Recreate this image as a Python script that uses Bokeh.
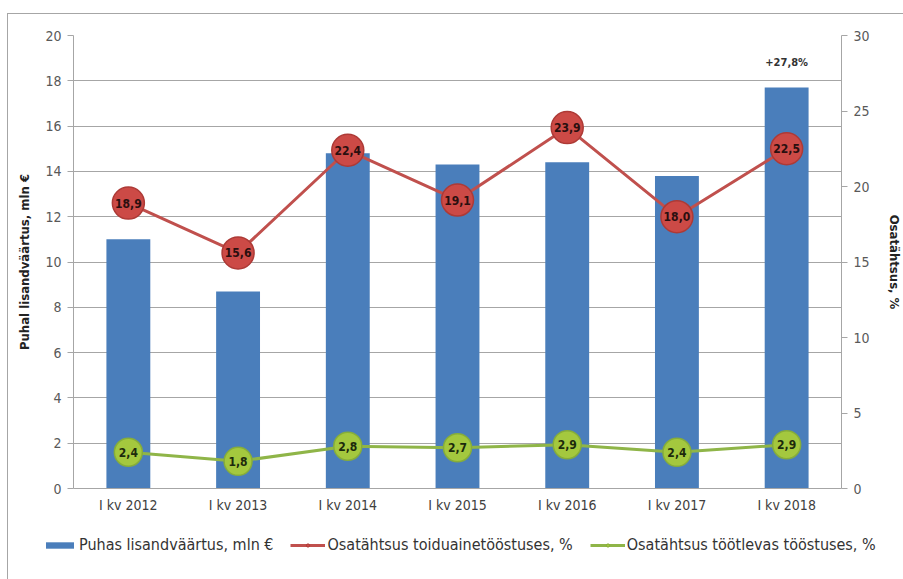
from bokeh.plotting import figure
from bokeh.layouts import column
from bokeh.models import (FactorRange, Range1d, LinearAxis, FixedTicker, Legend, LegendItem,
                          ColumnDataSource)
from bokeh.core.properties import value
from bokeh.embed import file_html
from bokeh.resources import INLINE

categories = ["I kv 2012", "I kv 2013", "I kv 2014", "I kv 2015", "I kv 2016", "I kv 2017", "I kv 2018"]
lisandvaartus = [11.0, 8.7, 14.8, 14.3, 14.4, 13.8, 17.7]
toiduaine = [18.9, 15.6, 22.4, 19.1, 23.9, 18.0, 22.5]
tootlev = [2.4, 1.8, 2.8, 2.7, 2.9, 2.4, 2.9]
growth_label = "+27,8%"
series_names = ["Puhas lisandväärtus, mln €", "Osatähtsus toiduainetööstuses, %",
                "Osatähtsus töötlevas tööstuses, %"]

left_ticks = list(range(0, 21, 2))
right_ticks = list(range(0, 31, 5))

FONT = "'DejaVu Sans Condensed', 'Liberation Sans Narrow', 'Roboto', sans-serif"
BAR_C = "#4a7ebb"
RED_L, RED_F, RED_E = "#c0504d", "#cc4a46", "#ad3a36"
GRN_L, GRN_F, GRN_E = "#8fb548", "#a4c83e", "#86ad3a"

def fmt(v):
    return f"{v:.1f}".replace(".", ",")

src = ColumnDataSource(dict(
    x=categories, bar=lisandvaartus, red=toiduaine, green=tootlev,
    red_lbl=[fmt(v) for v in toiduaine], green_lbl=[fmt(v) for v in tootlev],
))

W = 896
p = figure(x_range=FactorRange(factors=categories, range_padding=0), y_range=Range1d(0, 20),
           width=W, height=506, output_backend="svg", toolbar_location=None,
           min_border_left=65, min_border_right=55, min_border_top=21, min_border_bottom=32)
p.frame_align = False
p.extra_y_ranges = {"right": Range1d(0, 30)}
p.outline_line_color = None
p.background_fill_color = "white"
p.border_fill_color = "white"

p.vbar(x="x", top="bar", width=0.4, source=src, fill_color=BAR_C, line_color=None)

p.line(x="x", y="red", source=src, y_range_name="right", line_color=RED_L, line_width=3)
p.scatter(x="x", y="red", source=src, y_range_name="right", size=32,
          fill_color=RED_F, line_color=RED_E, line_width=1.5)
p.line(x="x", y="green", source=src, y_range_name="right", line_color=GRN_L, line_width=3)
p.scatter(x="x", y="green", source=src, y_range_name="right", size=28,
          fill_color=GRN_F, line_color=GRN_E, line_width=1.5)

p.text(x="x", y="red", text="red_lbl", source=src, y_range_name="right",
       text_align="center", text_baseline="middle", text_font=value(FONT),
       text_font_style="bold", text_font_size="12px", text_color="#2a0f0f")
p.text(x="x", y="green", text="green_lbl", source=src, y_range_name="right",
       text_align="center", text_baseline="middle", text_font=value(FONT),
       text_font_style="bold", text_font_size="12px", text_color="#1c2a0c")
p.text(x=[categories[-1]], y=[lisandvaartus[-1]], text=[growth_label], y_offset=-19,
       text_align="center", text_baseline="bottom", text_font=value(FONT),
       text_font_style="bold", text_font_size="11px", text_color="#333333")

# axes
p.yaxis.ticker = FixedTicker(ticks=left_ticks)
p.yaxis.axis_label = "Puhal lisandväärtus, mln €"
ax_r = LinearAxis(y_range_name="right", ticker=FixedTicker(ticks=right_ticks), axis_label="Osatähtsus, %")
p.add_layout(ax_r, "right")

for ax in [p.yaxis[0], ax_r]:
    ax.axis_line_color = "#a6a6a6"
    ax.major_tick_line_color = "#a6a6a6"
    ax.minor_tick_line_color = None
    ax.major_tick_out = 6
    ax.major_tick_in = 0
    ax.major_label_text_font = FONT
    ax.major_label_text_font_size = "14px"
    ax.major_label_text_color = "#595959"
    ax.axis_label_text_font = FONT
    ax.axis_label_text_font_size = "13px"
    ax.axis_label_text_font_style = "bold"
    ax.axis_label_text_color = "#222222"
    ax.major_label_standoff = 6
ax_r.axis_label_standoff = 14
p.yaxis[0].axis_label_standoff = 10

p.xaxis.axis_line_color = "#a6a6a6"
p.xaxis.major_tick_line_color = None
p.xaxis.major_label_text_font = FONT
p.xaxis.major_label_text_font_size = "14px"
p.xaxis.major_label_text_color = "#404040"
p.xaxis.major_label_standoff = 2

p.xgrid.grid_line_color = None
p.ygrid.grid_line_color = "#a6a6a6"
p.ygrid.grid_line_width = 1

# legend in its own strip below the chart (swatch renderers sit outside its ranges)
lg = figure(width=W, height=60, output_backend="svg", toolbar_location=None,
            x_range=Range1d(0, 1), y_range=Range1d(0, 1),
            min_border=0, x_axis_type=None, y_axis_type=None)
lg.frame_align = False
lg.outline_line_color = None
lg.grid.grid_line_color = None
hidden = ColumnDataSource(dict(x=[-5], y=[-5]))
r_bar = lg.rect(x="x", y="y", width=1, height=1, source=hidden, fill_color=BAR_C, line_color=None)
r_rl = lg.line(x="x", y="y", source=hidden, line_color=RED_L, line_width=3)
r_rp = lg.scatter(x="x", y="y", source=hidden, size=8, fill_color=RED_F, line_color=RED_E)
r_gl = lg.line(x="x", y="y", source=hidden, line_color=GRN_L, line_width=3)
r_gp = lg.scatter(x="x", y="y", source=hidden, size=8, fill_color=GRN_F, line_color=GRN_E)

legend = Legend(items=[
    LegendItem(label=series_names[0], renderers=[r_bar]),
    LegendItem(label=series_names[1], renderers=[r_rl, r_rp]),
    LegendItem(label=series_names[2], renderers=[r_gl, r_gp]),
], orientation="horizontal", location=(34, 26))
legend.label_text_font = FONT
legend.label_text_font_size = "16px"
legend.label_text_color = "#333333"
legend.border_line_color = None
legend.background_fill_alpha = 0
legend.glyph_width = 35
legend.glyph_height = 8
legend.label_standoff = 2
legend.spacing = 17
legend.margin = 0
legend.padding = 4
lg.add_layout(legend)

layout = column(p, lg, spacing=0)
layout.margin = (13, 0, 0, 7)
layout.styles = {"border-top": "1px solid #a6a6a6", "border-left": "1px solid #a6a6a6"}

open("out.html", "w").write(file_html(layout, INLINE))
